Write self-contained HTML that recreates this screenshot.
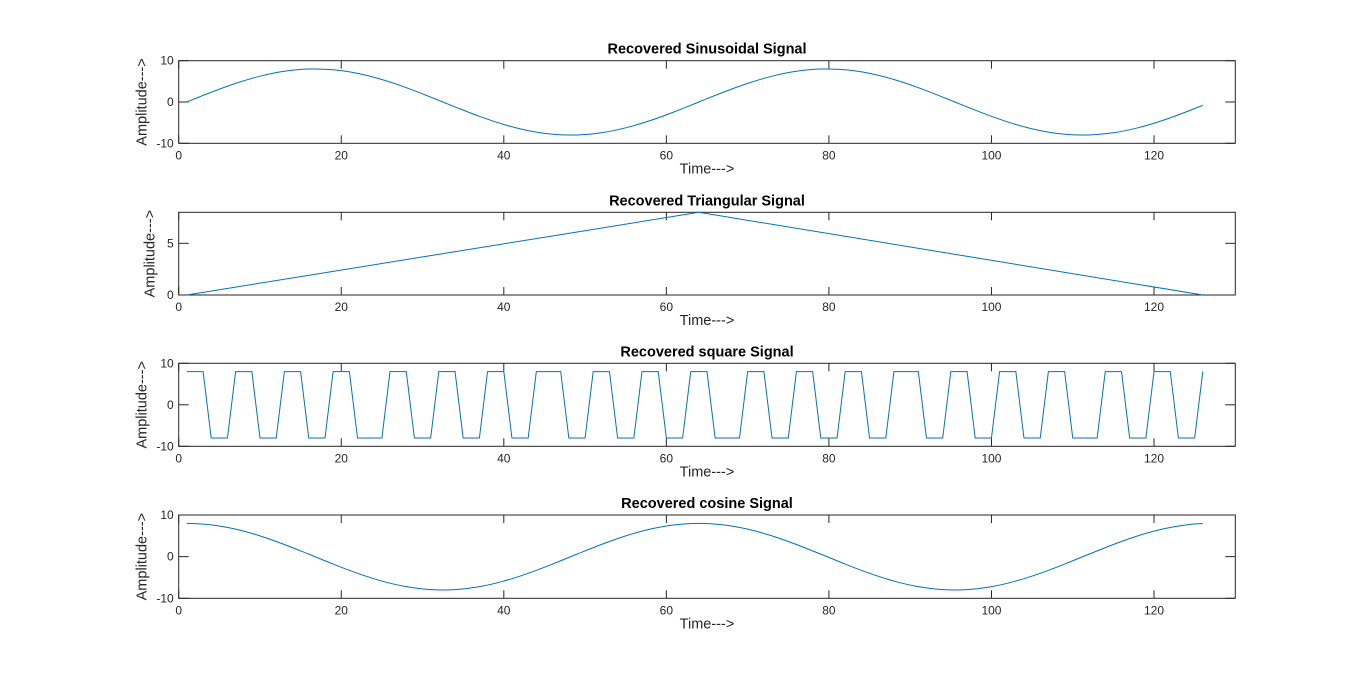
<!DOCTYPE html>
<html><head><meta charset="utf-8"><style>
html,body{margin:0;padding:0;background:#fff;}
svg{display:block;font-family:"Liberation Sans",Arial,sans-serif;}
</style></head><body>
<svg id="fig" width="1366" height="691" viewBox="0 0 1366 691" xmlns="http://www.w3.org/2000/svg"></svg>
<script>
// ---- data ----
const xTicks = [0, 20, 40, 60, 80, 100, 120];
const sinX = [1,4,7,10,13,16,19,22,25,28,31,34,37,40,43,46,49,52,55,58,61,64,67,70,73,76,79,82,85,88,91,94,97,100,103,106,109,112,115,118,121,124,126];
const sinY = [0,2.36,4.51,6.25,7.45,7.98,7.80,6.93,5.44,3.47,1.19,-1.19,-3.47,-5.44,-6.93,-7.80,-7.98,-7.45,-6.25,-4.51,-2.36,0,2.36,4.51,6.25,7.45,7.98,7.80,6.93,5.44,3.47,1.19,-1.19,-3.47,-5.44,-6.93,-7.80,-7.98,-7.45,-6.25,-4.51,-2.36,-0.80];
const cosX = sinX;
const cosY = [8,7.64,6.61,4.99,2.92,0.60,-1.78,-4.00,-5.86,-7.21,-7.91,-7.91,-7.21,-5.86,-4.00,-1.78,0.60,2.92,4.99,6.61,7.64,8,7.64,6.61,4.99,2.92,0.60,-1.78,-4.00,-5.86,-7.21,-7.91,-7.91,-7.21,-5.86,-4.00,-1.78,0.60,2.92,4.99,6.61,7.64,7.96];
const triX = [1, 64, 126];
const triY = [0, 8, 0];
const sqY = [8,8,8,-8,-8,-8,8,8,8,-8,-8,-8,8,8,8,-8,-8,-8,8,8,8,-8,-8,-8,-8,8,8,8,-8,-8,-8,8,8,8,-8,-8,-8,8,8,8,-8,-8,-8,8,8,8,8,-8,-8,-8,8,8,8,-8,-8,-8,8,8,8,-8,-8,-8,8,8,8,-8,-8,-8,-8,8,8,8,-8,-8,-8,8,8,8,-8,-8,-8,8,8,8,-8,-8,-8,8,8,8,8,-8,-8,-8,8,8,8,-8,-8,-8,8,8,8,-8,-8,-8,8,8,8,-8,-8,-8,-8,8,8,8,-8,-8,-8,8,8,8,-8,-8,-8,8];
const sqX = sqY.map((v,i)=>i+1);

const NS = "http://www.w3.org/2000/svg";
const svg = document.getElementById('fig');
const X0 = 178.7, X1 = 1235.3, XMAX = 130;
function mk(tag, attrs, parent){const e=document.createElementNS(NS,tag);for(const k in attrs)e.setAttribute(k,attrs[k]);(parent||svg).appendChild(e);return e;}

function smoothPath(pts){
  let d = `M${pts[0][0]},${pts[0][1]}`;
  for(let i=0;i<pts.length-1;i++){
    const p0=pts[Math.max(0,i-1)],p1=pts[i],p2=pts[i+1],p3=pts[Math.min(pts.length-1,i+2)];
    const c1=[p1[0]+(p2[0]-p0[0])/6,p1[1]+(p2[1]-p0[1])/6];
    const c2=[p2[0]-(p3[0]-p1[0])/6,p2[1]-(p3[1]-p1[1])/6];
    d+=` C${c1[0].toFixed(2)},${c1[1].toFixed(2)} ${c2[0].toFixed(2)},${c2[1].toFixed(2)} ${p2[0].toFixed(2)},${p2[1].toFixed(2)}`;
  }
  return d;
}

function panel(key, title, top, bottom, ymin, ymax, yTicks, xs, ys, smooth, ylOff){
  const g = mk('g',{});
  
  
  const sx = v => X0 + (v/XMAX)*(X1-X0);
  const sy = v => bottom - (v-ymin)/(ymax-ymin)*(bottom-top);
  xTicks.forEach(t=>{
    const x=sx(t);
    mk('line',{x1:x,x2:x,y1:bottom,y2:bottom-8,stroke:'#262626','stroke-width':1},g);
    mk('line',{x1:x,x2:x,y1:top,y2:top+8,stroke:'#262626','stroke-width':1},g);
    const tl=mk('text',{x:x,y:bottom+16,'text-anchor':'middle','font-size':12,fill:'#262626'},g);
    
    
    tl.textContent=t;
  });
  yTicks.forEach(t=>{
    const y=sy(t);
    mk('line',{x1:X0,x2:X0+10,y1:y,y2:y,stroke:'#262626','stroke-width':1},g);
    mk('line',{x1:X1,x2:X1-10,y1:y,y2:y,stroke:'#262626','stroke-width':1},g);
    const tl=mk('text',{x:X0-5,y:y+4,'text-anchor':'end','font-size':12,fill:'#262626'},g);
    
    
    tl.textContent=t;
  });
  const box=mk('rect',{x:X0,y:top,width:X1-X0,height:bottom-top,fill:'none',stroke:'#262626','stroke-width':1},g);
  
  
  const pts = xs.map((x,i)=>[sx(x),sy(ys[i])]);
  const d = smooth ? smoothPath(pts) : 'M'+pts.map(p=>p[0].toFixed(2)+','+p[1].toFixed(2)).join(' L');
  const line=mk('path',{d:d,fill:'none',stroke:'#0072BD','stroke-width':1},g);
  
  
  const tt=mk('text',{x:(X0+X1)/2,y:top-7,'text-anchor':'middle','font-size':14.5,'font-weight':'bold',fill:'#000'},g);
  
  
  tt.textContent=title;
  const xl=mk('text',{x:(X0+X1)/2,y:bottom+30,'text-anchor':'middle','font-size':14.5,fill:'#262626'},g);
  
  
  xl.textContent='Time--->';
  const cy=(top+bottom)/2;
  const yl=mk('text',{x:0,y:0,'text-anchor':'middle','font-size':14.5,fill:'#262626',transform:`translate(${X0-ylOff},${cy}) rotate(-90)`},g);
  
  
  yl.textContent='Amplitude--->';
}

panel('sinusoidal','Recovered Sinusoidal Signal',60.7,143.3,-10,10,[-10,0,10],sinX,sinY,true,32);
panel('triangular','Recovered Triangular Signal',212.3,295,0,8,[0,5],triX,triY,false,24);
panel('square','Recovered square Signal',363.3,446.3,-10,10,[-10,0,10],sqX,sqY,false,32);
panel('cosine','Recovered cosine Signal',515,598.3,-10,10,[-10,0,10],cosX,cosY,true,32);
</script>
</body></html>
